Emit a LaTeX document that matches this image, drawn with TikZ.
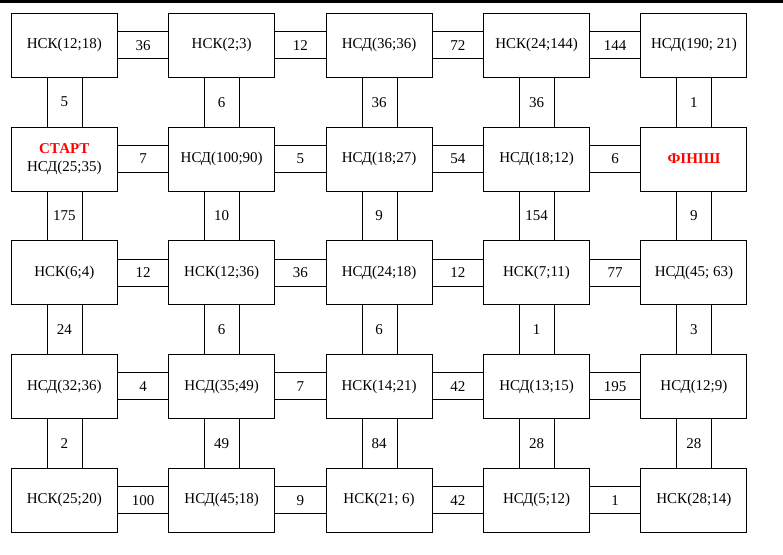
\documentclass[tikz,border=0pt]{standalone}
\usepackage{fontspec}
\setmainfont{Liberation Serif}
\usetikzlibrary{calc}
\tikzset{
  box/.style={draw, line width=0.9pt, minimum width=106pt, minimum height=64pt, inner sep=0pt, align=center, font=\fontsize{15}{18}\selectfont},
  conn/.style={line width=0.9pt},
  lbl/.style={inner sep=0pt, font=\fontsize{15}{18}\selectfont},
  redlbl/.style={text=red, font=\fontsize{15}{18}\selectfont\bfseries}
}
\begin{document}
\begin{tikzpicture}[x=1pt,y=1pt]
\useasboundingbox (0,0) rectangle (783,-554);
\fill[black] (0,0) rectangle (783,-2.5);
\foreach \row [count=\r] in {
  {НСК(12;18),НСК(2;3),НСД(36;36),НСК(24;144),НСД(190; 21)},
  {{\textcolor{red}{\textbf{СТАРТ}}\\НСД(25;35)},НСД(100;90),НСД(18;27),НСД(18;12),{\textcolor{red}{\textbf{ФІНІШ}}}},
  {НСК(6;4),НСК(12;36),НСД(24;18),НСК(7;11),НСД(45; 63)},
  {НСД(32;36),НСД(35;49),НСК(14;21),НСД(13;15),НСД(12;9)},
  {НСК(25;20),НСД(45;18),НСК(21; 6),НСД(5;12),НСК(28;14)}}{
  \foreach \t [count=\c] in \row {
    \node[box] (b\r\c) at ({64.3+157.4*(\c-1)},{-45.3-113.7*(\r-1)}) {\t};
  }
}
% horizontal connectors
\foreach \r/\c/\d/\t in {
  1/1/2/36, 1/2/3/12, 1/3/4/72, 1/4/5/144,
  2/1/2/7, 2/2/3/5, 2/3/4/54, 2/4/5/6,
  3/1/2/12, 3/2/3/36, 3/3/4/12, 3/4/5/77,
  4/1/2/4, 4/2/3/7, 4/3/4/42, 4/4/5/195,
  5/1/2/100, 5/2/3/9, 5/3/4/42, 5/4/5/1}{
  \draw[conn] ([yshift=13.5pt]b\r\c.east) -- ([yshift=13.5pt]b\r\d.west);
  \draw[conn] ([yshift=-13.5pt]b\r\c.east) -- ([yshift=-13.5pt]b\r\d.west);
  \node[lbl] (h\r\c) at ($(b\r\c.east)!0.5!(b\r\d.west)$) {\t};
}
% vertical connectors
\foreach \r/\s/\c/\t in {
  1/2/1/5, 1/2/2/6, 1/2/3/36, 1/2/4/36, 1/2/5/1,
  2/3/1/175, 2/3/2/10, 2/3/3/9, 2/3/4/154, 2/3/5/9,
  3/4/1/24, 3/4/2/6, 3/4/3/6, 3/4/4/1, 3/4/5/3,
  4/5/1/2, 4/5/2/49, 4/5/3/84, 4/5/4/28, 4/5/5/28}{
  \draw[conn] ([xshift=-17pt]b\r\c.south) -- ([xshift=-17pt]b\s\c.north);
  \draw[conn] ([xshift=18pt]b\r\c.south) -- ([xshift=18pt]b\s\c.north);
  \node[lbl] (v\r\c) at ($(b\r\c.south)!0.5!(b\s\c.north)$) {\t};
}
\end{tikzpicture}
\end{document}
